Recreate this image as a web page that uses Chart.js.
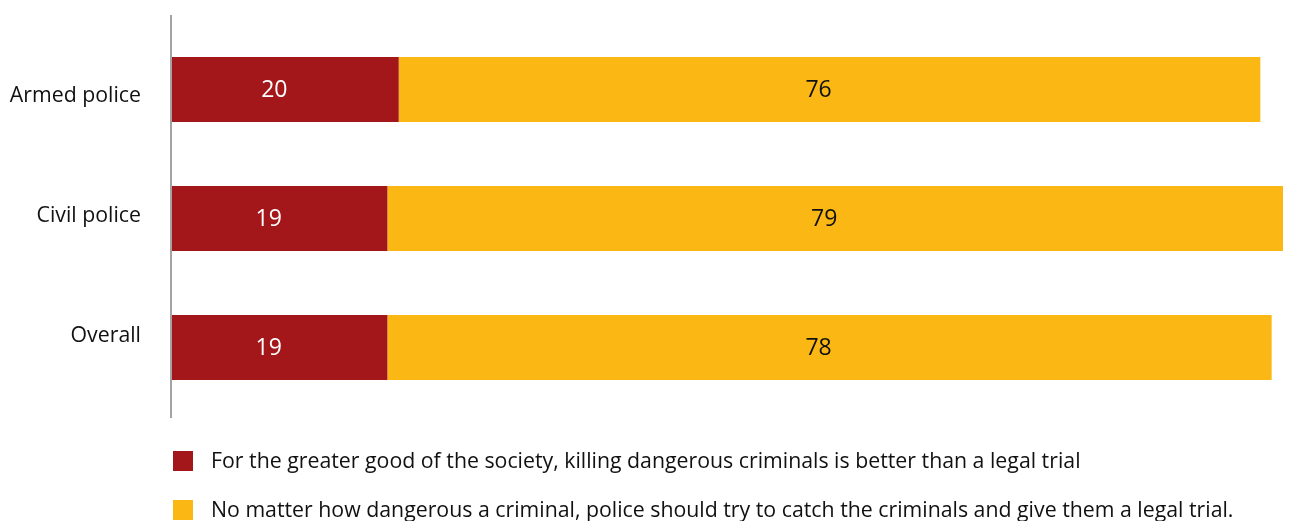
<!DOCTYPE html>
<html>
<head>
<meta charset="utf-8">
<script src="https://cdn.jsdelivr.net/npm/chart.js@4"></script>
<style>
  html, body { margin: 0; padding: 0; background: #fff; }
  #wrap { position: relative; width: 1290px; height: 521px; }
  #legend { position: absolute; left: 173px; top: 451px; font-family: "Open Sans", Lato, sans-serif; font-size: 21.3px; color: #111; }
  .item { position: absolute; left: 0; white-space: nowrap; height: 20px; }
  .sw { position: absolute; left: 0; top: 0; width: 20px; height: 20px; }
  .tx { position: absolute; left: 38px; top: -5px; line-height: 28px; }
</style>
</head>
<body>
<div id="wrap">
  <canvas id="c" width="1290" height="521"></canvas>
  <div id="legend"></div>
</div>
<script>
const categories = ["Armed police", "Civil police", "Overall"];
const seriesNames = [
  "For the greater good of the society, killing dangerous criminals is better than a legal trial",
  "No matter how dangerous a criminal, police should try to catch the criminals and give them a legal trial."
];
const killingValues = [20, 19, 19];
const trialValues = [76, 79, 78];
const seriesColors = ["#A3161A", "#FBB815"];
const labelColors = ["#ffffff", "#111111"];

const FONT = "'Open Sans', Lato, sans-serif";

const drawPlugin = {
  id: 'custom',
  afterDatasetsDraw(chart) {
    const ctx = chart.ctx;
    const area = chart.chartArea;
    // axis line
    ctx.save();
    ctx.strokeStyle = '#a3a3a3';
    ctx.lineWidth = 2;
    ctx.beginPath();
    ctx.moveTo(area.left - 1, area.top - 10);
    ctx.lineTo(area.left - 1, area.bottom + 6);
    ctx.stroke();
    // value labels
    ctx.font = "23px " + FONT;
    ctx.textAlign = 'center';
    ctx.textBaseline = 'middle';
    chart.data.datasets.forEach((ds, di) => {
      const meta = chart.getDatasetMeta(di);
      meta.data.forEach((el, i) => {
        ctx.fillStyle = labelColors[di];
        ctx.fillText(String(ds.data[i]), (el.base + el.x) / 2 - 11, el.y + 1);
      });
    });
    // category labels
    const ys = chart.scales.y;
    const mid = (area.top + area.bottom) / 2;
    ctx.font = "21.3px " + FONT;
    ctx.textAlign = 'right';
    ctx.fillStyle = '#111111';
    categories.forEach((c, i) => {
      const py = ys.getPixelForValue(i);
      const y = mid + (py - mid) * 0.93 - 3;
      ctx.fillText(c, area.left - 31, y);
    });
    ctx.restore();
  }
};

new Chart(document.getElementById('c'), {
  type: 'bar',
  data: {
    labels: categories,
    datasets: [
      { label: seriesNames[0], data: killingValues, backgroundColor: seriesColors[0] },
      { label: seriesNames[1], data: trialValues, backgroundColor: seriesColors[1] }
    ]
  },
  options: {
    indexAxis: 'y',
    responsive: false,
    animation: false,
    events: [],
    layout: { padding: { left: 172, right: 7, top: 25, bottom: 109 } },
    datasets: { bar: { categoryPercentage: 1, barPercentage: 0.504 } },
    scales: {
      x: { stacked: true, display: false, min: 0, max: 98 },
      y: { stacked: true, display: false }
    },
    plugins: { legend: { display: false }, tooltip: { enabled: false } }
  },
  plugins: [drawPlugin]
});

const legend = document.getElementById('legend');
seriesNames.forEach((n, i) => {
  const it = document.createElement('div');
  it.className = 'item';
  it.style.top = (i * 49) + 'px';
  it.innerHTML = '<span class="sw" style="background:' + seriesColors[i] + '"></span><span class="tx"></span>';
  it.querySelector('.tx').textContent = n;
  legend.appendChild(it);
});
</script>
</body>
</html>
